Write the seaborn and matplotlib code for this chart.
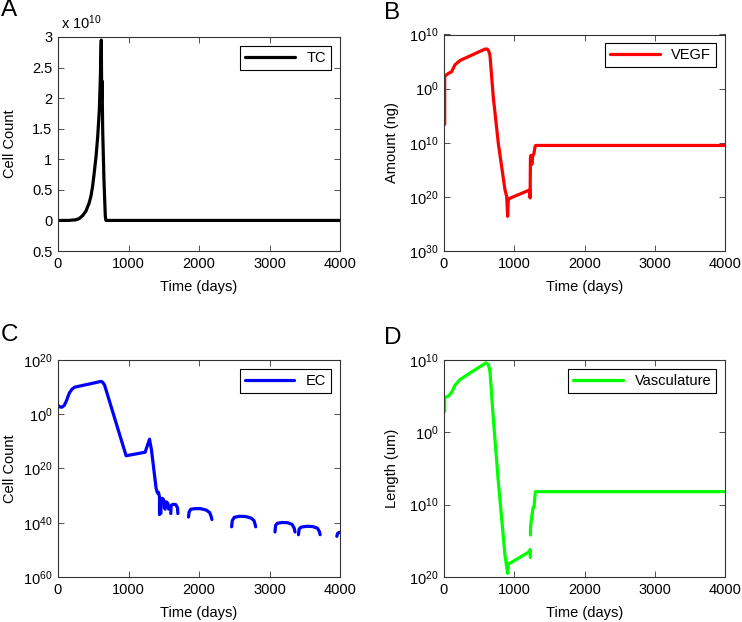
import numpy as np
import pandas as pd
import matplotlib
matplotlib.use("Agg")
import matplotlib.pyplot as plt
import seaborn as sns

# -----------------------------
# DATA
# -----------------------------
# A: tumour cells, in units of 1e10
tc_days = [0, 150, 250, 300, 350, 395, 440, 466, 490, 513, 540, 563, 586, 600,
           610, 614, 620, 625, 634, 652, 671, 680, 4000]
tc_count_e10 = [0, 0, 0.01, 0.03, 0.08, 0.15, 0.28, 0.39, 0.55, 0.77, 1.05, 1.37,
                1.8, 2.3, 2.8, 2.95, 2.0, 2.28, 1.47, 0.66, 0.07, 0, 0]

# B: VEGF amount, log10 values
vegf_days = [10, 10, 61, 108, 156, 228, 583, 616, 635, 654, 701, 773, 868, 892,
             906, 915, 948, 1223, 1226, 1230, 1240, 1250, 1262, 1280, 1295, 1305, 4000]
vegf_log10 = [-6.6, 2.3, 2.8, 3.1, 4.4, 5.2, 7.3, 7.3, 7.0, 6.2, -1.5, -10.1, -18.7,
              -19.9, -23.6, -20.5, -20.2, -18.7, -20.2, -13.0, -12.3, -14.0, -12.5,
              -12.0, -10.8, -10.5, -10.5]

# C: endothelial cells, log10 values (nan = break in the line)
ec_days = [0, 25, 55, 90, 120, 160, 200, 240, 610, 630, 660, 966, 1236, 1298, 1325,
           1392, 1405, 1416, 1425, 1440, 1440, np.nan,
           1460, 1462, 1475, 1490, 1505, 1510, np.nan,
           1520, 1525, 1540, 1560, 1570, np.nan,
           1600, 1605, 1630, 1670, 1695, 1700, np.nan,
           1851, 1860, 1885, 1950, 2020, 2100, 2150, 2170, 2183, np.nan,
           2463, 2472, 2500, 2580, 2660, 2740, 2780, 2795, 2804, np.nan,
           3078, 3086, 3110, 3180, 3260, 3320, 3350, 3362, np.nan,
           3411, 3420, 3450, 3530, 3610, 3680, 3708, 3718, np.nan,
           3955, 3965, 3985, 4000]
ec_log10 = [3.3, 2.7, 2.6, 3.3, 5.0, 7.8, 9.3, 10.0, 12.1, 11.9, 10.8, -15.3, -14.0,
            -9.2, -13.0, -27.4, -28.5, -29.2, -28.8, -30.5, -37.0, np.nan,
            -36.5, -31.5, -31.0, -31.2, -32.0, -34.5, np.nan,
            -35.0, -32.5, -32.3, -33.0, -35.0, np.nan,
            -36.6, -33.6, -33.2, -33.3, -34.5, -36.6, np.nan,
            -37.9, -36.0, -35.0, -34.8, -34.8, -35.3, -36.2, -37.5, -38.8, np.nan,
            -41.5, -39.2, -38.0, -37.6, -37.7, -38.3, -39.2, -40.5, -41.5, np.nan,
            -43.4, -41.0, -40.2, -39.9, -40.0, -40.6, -42.0, -43.4, np.nan,
            -44.4, -42.3, -41.6, -41.3, -41.4, -42.0, -43.3, -44.4, np.nan,
            -45.0, -44.0, -43.6, -43.5]

# D: vasculature length, log10 values
vasc_days = [10, 10, 61, 108, 156, 228, 597, 630, 654, 701, 773, 868, 906, 915, 939,
             1214, 1228, 1228, np.nan,
             1230, 1233, 1245, 1260, 1268, 1282, 1300, 4000]
vasc_log10 = [2.9, 4.8, 5.0, 5.5, 6.5, 7.3, 9.6, 9.4, 8.5, 2.0, -6.8, -17.0, -19.5,
              -18.1, -18.1, -16.5, -16.2, -17.3, np.nan,
              -14.2, -13.0, -11.9, -11.0, -10.4, -10.3, -8.2, -8.2]

time_ticks = [0, 1000, 2000, 3000, 4000]

# -----------------------------
# STYLE
# -----------------------------
sns.set_theme(style="ticks")
FS = 10.5
plt.rcParams.update({
    "font.family": ["Liberation Sans", "DejaVu Sans"],
    "font.size": FS,
    "mathtext.fontset": "custom",
    "mathtext.rm": "Liberation Sans",
    "mathtext.it": "Liberation Sans:italic",
    "mathtext.bf": "Liberation Sans:bold",
    "axes.edgecolor": "#333333",
    "axes.linewidth": 0.8,
    "xtick.direction": "in",
    "ytick.direction": "in",
    "xtick.top": True,
    "ytick.right": True,
    "xtick.major.size": 4,
    "ytick.major.size": 4,
    "xtick.major.width": 0.6,
    "ytick.major.width": 0.6,
    "xtick.color": "#333333",
    "ytick.color": "#333333",
    "xtick.labelcolor": "black",
    "ytick.labelcolor": "black",
    "xtick.labelsize": FS,
    "ytick.labelsize": FS,
    "axes.labelsize": FS,
    "axes.labelcolor": "black",
    "text.color": "black",
})

LW = 2.3
W, H = 742, 622
fig = plt.figure(figsize=(W / 100, H / 100), dpi=100)


def make_axes(left, top, right, bottom):
    return fig.add_axes([left / W, 1 - bottom / H, (right - left) / W, (bottom - top) / H])


def to_frame(days, vals, log=True):
    days = np.asarray(days, dtype=float)
    vals = np.asarray(vals, dtype=float)
    seg = np.cumsum(np.isnan(days))
    df = pd.DataFrame({"t": days, "v": 10.0 ** vals if log else vals, "seg": seg})
    return df.dropna()


def draw(ax, df, color, label):
    sns.lineplot(data=df, x="t", y="v", units="seg", estimator=None, sort=False,
                 color=color, linewidth=LW, ax=ax, legend=False)
    ax.legend([ax.lines[0]], [label], loc="upper right", frameon=True,
              fancybox=False, framealpha=1, edgecolor="black", handlelength=3.4,
              borderaxespad=0.6, borderpad=0.35, fontsize=FS)
    ax.get_legend().get_frame().set_linewidth(0.8)


def finish(ax, ylabel, yl_x):
    ax.set_xlim(0, 4000)
    ax.set_xticks(time_ticks)
    ax.set_xticklabels([str(t) for t in time_ticks])
    ax.set_xlabel("Time (days)")
    ax.set_ylabel(ylabel)
    ax.xaxis.set_label_coords(0.5, -0.135)
    ax.yaxis.set_label_coords(yl_x, 0.5)
    ax.tick_params(pad=4)
    ax.minorticks_off()


def log_axis(ax, exps):
    ax.set_yscale("log")
    ax.set_ylim(10.0 ** min(exps), 10.0 ** max(exps))
    ax.set_yticks([10.0 ** e for e in exps])
    # labels shown as printed in the reference (minus signs missing)
    ax.set_yticklabels([r"10$^{%d}$" % abs(e) for e in exps])
    ax.minorticks_off()


# A
axA = make_axes(58, 37, 340, 251)
draw(axA, to_frame(tc_days, tc_count_e10, log=False), "black", "TC")
axA.set_ylim(-0.5, 3)
a_ticks = [-0.5, 0, 0.5, 1, 1.5, 2, 2.5, 3]
axA.set_yticks(a_ticks)
axA.set_yticklabels(["0.5", "0", "0.5", "1", "1.5", "2", "2.5", "3"])
axA.text(0.01, 1.025, r"x 10$^{10}$", transform=axA.transAxes, ha="left", va="bottom")
finish(axA, "Cell Count", -0.146)

# B
axB = make_axes(444, 34.5, 725, 251)
draw(axB, to_frame(vegf_days, vegf_log10), "#ff0000", "VEGF")
log_axis(axB, [-30, -20, -10, 0, 10])
finish(axB, "Amount (ng)", -0.16)

# C
axC = make_axes(58, 360, 340, 577)
draw(axC, to_frame(ec_days, ec_log10), "#0000ff", "EC")
log_axis(axC, [-60, -40, -20, 0, 20])
finish(axC, "Cell Count", -0.146)

# D
axD = make_axes(444, 360, 725, 577)
draw(axD, to_frame(vasc_days, vasc_log10), "#00ff00", "Vasculature")
log_axis(axD, [-20, -10, 0, 10])
finish(axD, "Length (um)", -0.16)

for letter, x, y in [("A", 1, -1), ("B", 384, 2), ("C", 1, 324), ("D", 384, 327)]:
    fig.text(x / W, 1 - y / H, letter, fontsize=17.5, ha="left", va="top")

fig.savefig("out.png", dpi=100)
plt.close(fig)
